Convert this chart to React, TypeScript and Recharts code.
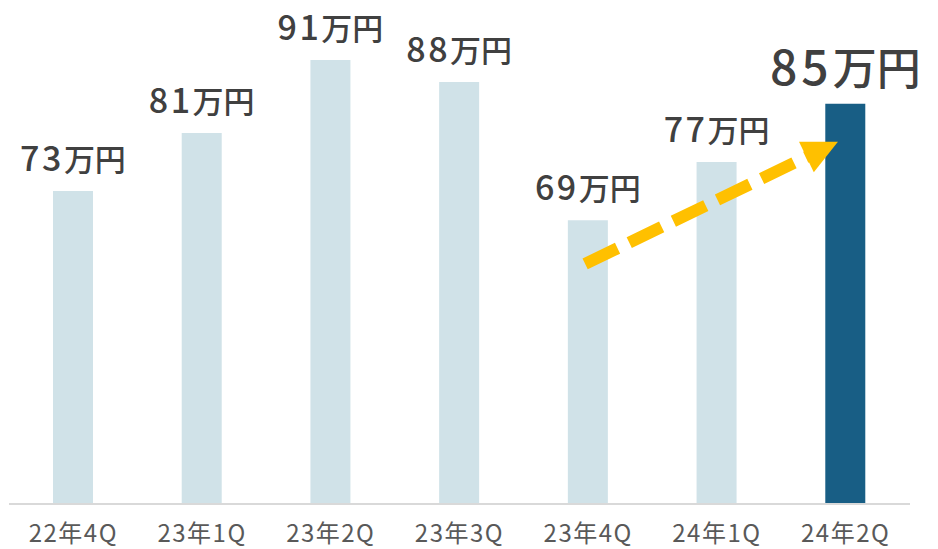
import { BarChart, Bar, XAxis, YAxis, Cell, LabelList, ReferenceLine } from "recharts";

const quarters = ["22年4Q", "23年1Q", "23年2Q", "23年3Q", "23年4Q", "24年1Q", "24年2Q"];
const sales = [73, 81, 91, 88, 69, 77, 85];
const arrowFrom = { x: "23年4Q", y: 63.2 };
const arrowTo = { x: "24年2Q", y: 80.3 };

const data = quarters.map((q, i) => ({ name: q, value: sales[i] }));
const lastIndex = data.length - 1;

const FONT = "'Noto Sans CJK JP', 'Noto Sans', sans-serif";

const ValueLabel = (props: any) => {
  const { x, y, width, value, index } = props;
  const cx = x + width / 2;
  const big = index === lastIndex;
  return (
    <text
      x={cx}
      y={y - (big ? 19 : 20)}
      textAnchor="middle"
      fill="#404040"
      fontFamily={FONT}
      fontWeight={500}
    >
      <tspan fontSize={big ? 48 : 34} letterSpacing={big ? 4 : 2.5}>
        {value}
      </tspan>
      <tspan fontSize={big ? 44 : 31}>万円</tspan>
    </text>
  );
};

const QuarterTick = (props: any) => {
  const { x, y, payload } = props;
  return (
    <text
      x={x}
      y={y + 38}
      textAnchor="middle"
      fill="#595959"
      fontSize={24}
      letterSpacing={1.5}
      fontFamily={FONT}
    >
      {payload.value}
    </text>
  );
};

const DashedArrow = (props: any) => {
  const { x1, y1, x2, y2 } = props;
  const sx = x1 - 0.012 * (x2 - x1);
  const sy = y1 - 0.012 * (y2 - y1);
  const tx = x1 + 0.97 * (x2 - x1);
  const ty = y1 + 0.97 * (y2 - y1);
  const len = Math.hypot(tx - sx, ty - sy);
  const ux = (tx - sx) / len;
  const uy = (ty - sy) / len;
  const headLen = 35;
  const half = 17;
  const bx = tx - ux * headLen;
  const by = ty - uy * headLen;
  return (
    <g>
      <line
        x1={sx}
        y1={sy}
        x2={bx + ux * 2}
        y2={by + uy * 2}
        stroke="#FFC000"
        strokeWidth={12}
        strokeDasharray="36 13"
      />
      <polygon
        points={`${tx},${ty} ${bx - uy * half},${by + ux * half} ${bx + uy * half},${by - ux * half}`}
        fill="#FFC000"
      />
    </g>
  );
};

export default function App() {
  return (
    <div style={{ position: "fixed", left: 0, top: 0, width: 938, height: 549, background: "#fff" }}>
      <BarChart
        width={938}
        height={549}
        data={data}
        margin={{ top: 31, right: 28, bottom: 0, left: 9 }}
        barCategoryGap={0}
      >
        <XAxis
          dataKey="name"
          height={45}
          axisLine={{ stroke: "#d9d9d9", strokeWidth: 2 }}
          tickLine={false}
          tickSize={0}
          tickMargin={0}
          tick={<QuarterTick />}
          interval={0}
        />
        <YAxis hide domain={[30, 95]} allowDataOverflow />
        <Bar dataKey="value" barSize={40} isAnimationActive={false}>
          {data.map((_, i) => (
            <Cell key={i} fill={i === lastIndex ? "#185E85" : "#D0E2E8"} />
          ))}
          <LabelList dataKey="value" content={<ValueLabel />} />
        </Bar>
        <ReferenceLine
          segment={[arrowFrom, arrowTo]}
          shape={<DashedArrow />}
          ifOverflow="visible"
        />
      </BarChart>
    </div>
  );
}
